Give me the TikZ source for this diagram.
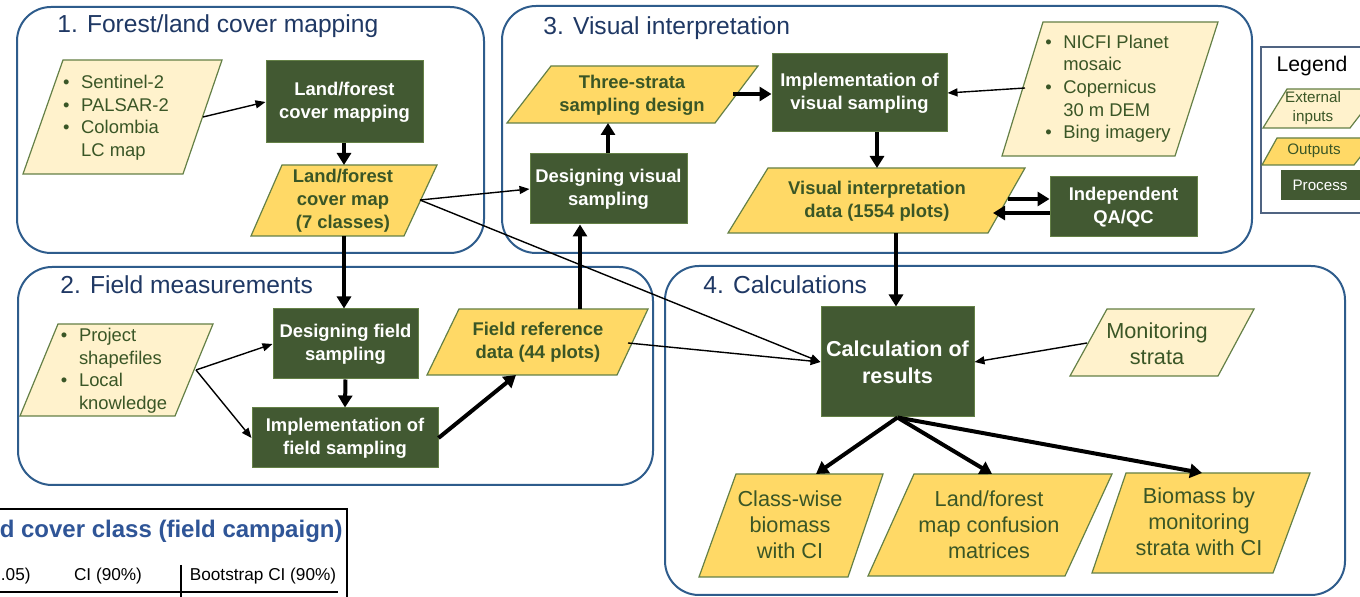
\documentclass[tikz,border=0pt]{standalone}
\usepackage{fontspec}
\setmainfont{Liberation Sans}
\usetikzlibrary{arrows.meta}

\definecolor{procgreen}{RGB}{66,89,50}
\definecolor{outgold}{RGB}{255,217,102}
\definecolor{inbeige}{RGB}{255,242,204}
\definecolor{edgegreen}{RGB}{100,128,70}
\definecolor{txtgreen}{RGB}{58,86,38}
\definecolor{frameblue}{RGB}{46,92,140}
\definecolor{titleblue}{RGB}{31,56,100}
\definecolor{legendedge}{RGB}{80,100,130}
\definecolor{tableblue}{RGB}{47,85,151}

% parallelogram: style, x top-left, x top-right, y top, x bottom-left, x bottom-right, y bottom
\newcommand\pgram[7]{\filldraw[#1] (#2,#4) -- (#3,#4) -- (#6,#7) -- (#5,#7) -- cycle;}

\tikzset{
  sect/.style={draw=frameblue, line width=1pt, rounded corners=17pt},
  secttitle/.style={anchor=west, text=titleblue, inner sep=0pt,
    font=\fontsize{12.3}{14}\selectfont},
  sz/.style 2 args={minimum width={#1*0.5pt}, minimum height={#2*0.5pt}},
  proc/.style={fill=procgreen, draw=edgegreen, line width=0.5pt, text=white,
    inner sep=0pt, align=center, font=\bfseries\fontsize{9.2}{11.5}\selectfont},
  inpoly/.style={fill=inbeige, draw=edgegreen, line width=0.6pt},
  outpoly/.style={fill=outgold, draw=edgegreen, line width=0.6pt},
  intext/.style={text=txtgreen, inner sep=0pt, font=\fontsize{9.2}{11.35}\selectfont},
  outtext/.style={text=txtgreen, inner sep=0pt, align=center,
    font=\bfseries\fontsize{9.2}{11.5}\selectfont},
  bigtext/.style={text=txtgreen, inner sep=0pt, align=center,
    font=\fontsize{10.85}{13}\selectfont},
  thinarr/.style={-{Triangle[length=5pt,width=4pt]}, line width=0.7pt},
  thickarr/.style={-{Triangle[length=6pt,width=7pt]}, line width=2pt},
}

\newcommand\bulletlist[1]{\begin{tabular}{@{}l@{\hspace{5.8pt}}l@{}}#1\end{tabular}}

\begin{document}
\begin{tikzpicture}[x=0.5pt,y=-0.5pt]
\path[use as bounding box] (0,0) rectangle (1360,597);
\clip (0,0) rectangle (1360,597);
\fill[white] (0,0) rectangle (1360,597);

% ---- table peeking in at the lower left
\draw[line width=1pt] (-5,509) -- (347,509) -- (347,605);
\node[anchor=east, inner sep=0pt, text=tableblue, font=\bfseries\fontsize{12}{14}\selectfont]
  (tabtitle) at (343,531) {d cover class (field campaign)};
\node[anchor=east, inner sep=0pt, font=\fontsize{8.6}{10}\selectfont] (tabc1) at (31,576) {.05)};
\node[inner sep=0pt, font=\fontsize{8.6}{10}\selectfont] (tabc2) at (108,576) {CI (90\%)};
\node[inner sep=0pt, font=\fontsize{8.6}{10}\selectfont] (tabc3) at (263,576) {Bootstrap CI (90\%)};
\draw[line width=0.6pt] (181,565) -- (181,605);
\draw[line width=0.6pt] (-5,592) -- (338,592);

% ---- section frames
\draw[sect] (17,7) rectangle (484,253);
\draw[sect] (18,267) rectangle (653,485);
\draw[sect] (502,6) rectangle (1252,253);
\draw[sect] (665,266) rectangle (1345,595);
\node[secttitle] (t1) at (57,26) {1. Forest/land cover mapping};
\node[secttitle] (t2) at (60,285) {2. Field measurements};
\node[secttitle] (t3) at (543,28) {3. Visual interpretation};
\node[secttitle] (t4) at (703,285) {4. Calculations};

% ---- legend
\draw[draw=legendedge, line width=0.8pt] (1261,47) rectangle (1380,213);
\node[inner sep=0pt, font=\fontsize{10.6}{12}\selectfont] (legtitle) at (1312,66) {Legend};
\pgram{inpoly}{1287}{1380}{89}{1263}{1350}{128}
\node[text=txtgreen, inner sep=0pt, align=center, font=\fontsize{7.6}{9.5}\selectfont]
  (legin) at (1313,108) {External\\inputs};
\pgram{outpoly}{1277}{1375}{138}{1262}{1354}{165}
\node[text=txtgreen, inner sep=0pt, font=\fontsize{7.6}{9.5}\selectfont] (legout) at (1314,151) {Outputs};
\node[fill=procgreen, sz={100}{30}, anchor=west, inner sep=0pt] (legproc) at (1281,185) {};
\node[text=white, inner sep=0pt, font=\fontsize{7.6}{9.5}\selectfont] (legproct) at (1320,185) {Process};

% ---- section 1
\pgram{inpoly}{63}{222}{60}{23}{183}{174}
\node[intext] (in1) at (116,118) {\bulletlist{\textbullet & Sentinel-2\\ \textbullet & PALSAR-2\\ \textbullet & Colombia\\ & LC map}};
\node[proc, sz={157}{82}] (proc1) at (344.5,102) {Land/forest\\cover mapping};
\pgram{outpoly}{282}{437}{165}{251}{404}{236}
\node[outtext] (out1) at (343,201) {Land/forest\\cover map\\(7 classes)};

% ---- section 2
\pgram{inpoly}{58}{213}{324}{20}{175}{416}
\node[intext] (in2) at (114,371) {\bulletlist{\textbullet & Project\\ & shapefiles\\ \textbullet & Local\\ & knowledge}};
\node[proc, sz={145}{70}] (proc2a) at (345.5,344) {Designing field\\sampling};
\node[proc, sz={186}{60}] (proc2b) at (345,438) {Implementation of\\field sampling};
\pgram{outpoly}{459}{648}{309}{427}{617}{375}
\node[outtext] (out2) at (538,342) {Field reference\\data (44 plots)};

% ---- section 3
\pgram{outpoly}{551}{758}{66}{507}{715}{123}
\node[outtext] (out3a) at (632,95) {Three-strata\\sampling design};
\node[proc, sz={157}{70}] (proc3a) at (608.5,189) {Designing visual\\sampling};
\node[proc, sz={175}{78}] (proc3b) at (859.5,93) {Implementation of\\visual sampling};
\pgram{inpoly}{1043}{1218}{22}{1002}{1175}{156}
\node[intext] (in3) at (1108,89) {\bulletlist{\textbullet & NICFI Planet\\ & mosaic\\ \textbullet & Copernicus\\ & 30 m DEM\\ \textbullet & Bing imagery}};
\pgram{outpoly}{768}{1025}{168}{728}{988}{233}
\node[outtext] (out3b) at (877,201) {Visual interpretation\\data (1554 plots)};
\node[proc, sz={147}{60}] (proc3c) at (1123.5,207) {Independent\\QA/QC};

% ---- section 4
\node[proc, sz={153}{110}, font=\bfseries\fontsize{10.8}{13.5}\selectfont] (calc) at (897.5,362) {Calculation of\\results};
\pgram{inpoly}{1107}{1254}{309}{1070}{1218}{376}
\node[bigtext] (in4) at (1157,344) {Monitoring\\strata};
\pgram{outpoly}{736}{883}{474}{699}{848}{577}
\node[bigtext] (out4a) at (790,525) {Class-wise\\biomass\\with CI};
\pgram{outpoly}{914}{1112}{474}{868}{1065}{576}
\node[bigtext] (out4b) at (989,525) {Land/forest\\map confusion\\matrices};
\pgram{outpoly}{1126}{1310}{473}{1092}{1273}{573}
\node[bigtext] (out4c) at (1199,522) {Biomass by\\monitoring\\strata with CI};

% ---- attachment points on parallelogram edges
\coordinate (in1e) at (203,117);
\coordinate (out1t) at (344,165);
\coordinate (out1b) at (344,236);
\coordinate (out1e) at (420,200);
\coordinate (in2e) at (196,370);
\coordinate (out2b) at (516,375);
\coordinate (out2t) at (580,309);
\coordinate (out2e) at (628,343);
\coordinate (out3ab) at (608,123);
\coordinate (out3ae) at (733,94);
\coordinate (in3w) at (1025,88);
\coordinate (out3bt) at (877,168);
\coordinate (out3bb) at (896,233);
\coordinate (qa1) at (1008,199);
\coordinate (qa2) at (993,213);
\coordinate (in4w) at (1087,343);
\coordinate (out4at) at (816,474);
\coordinate (out4bt) at (992,474);
\coordinate (out4ct) at (1202,473);

% ---- connectors
\draw[thinarr] (in1e) -- (proc1.west);
\draw[thickarr] (proc1.south -| out1t) -- (out1t);
\draw[thinarr] (out1e) -- (proc3a.west);
\draw[thinarr] (out1e) -- (calc.west);
\draw[thickarr] (out1b) -- (out1b |- proc2a.north);
\draw[thinarr] (in2e) -- (proc2a.west);
\draw[thinarr] (in2e) -- (proc2b.west);
\draw[thickarr] (proc2a.south) -- (proc2b.north);
\draw[thickarr] (proc2b.east) -- (out2b);
\draw[thickarr] (out2t) -- (out2t |- proc3a.south);
\draw[thinarr] (out2e) -- (calc.west);
\draw[thickarr] (proc3a.north -| out3ab) -- (out3ab);
\draw[thickarr] (out3ae) -- (out3ae -| proc3b.west);
\draw[thinarr] (in3w) -- (proc3b.east);
\draw[thickarr] (proc3b.south -| out3bt) -- (out3bt);
\draw[thickarr] (qa1) -- (qa1 -| proc3c.west);
\draw[thickarr] (qa2 -| proc3c.west) -- (qa2);
\draw[thickarr] (out3bb) -- (out3bb |- calc.north);
\draw[thinarr] (in4w) -- (calc.east);
\draw[thickarr] (calc.south) -- (out4at);
\draw[thickarr] (calc.south) -- (out4bt);
\draw[thickarr] (calc.south) -- (out4ct);
\end{tikzpicture}
\end{document}
